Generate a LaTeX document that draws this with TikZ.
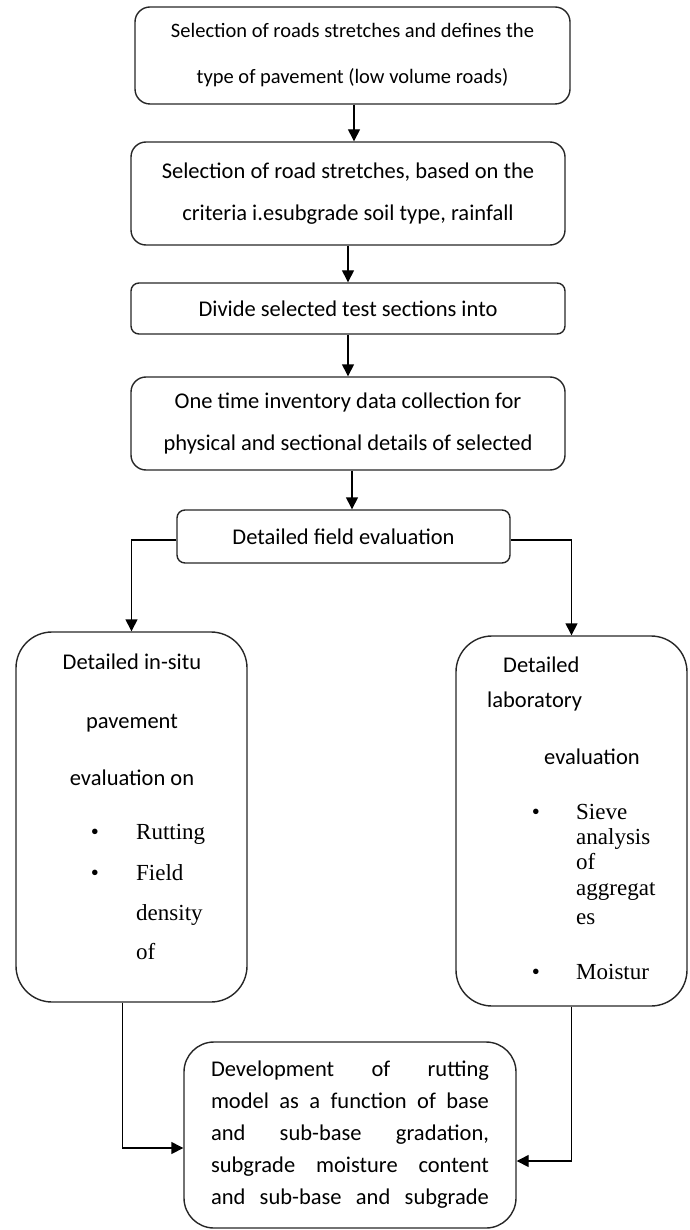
\documentclass[tikz,border=0pt]{standalone}
\usepackage{fontspec}
\setmainfont{Carlito}
\newfontfamily\itemfont{Liberation Serif}
\usetikzlibrary{arrows.meta}

\tikzset{
  stagebox/.style={draw=black!85, line width=1.4pt, rounded corners=15pt, align=center, inner sep=0pt, font=\fontsize{22.5}{42}\selectfont},
  tallbox/.style={draw=black!85, line width=1.4pt, rounded corners=36pt, minimum width=231pt, minimum height=370pt},
  flow/.style={line width=1.4pt, -{Triangle[length=12pt,width=12pt]}},
  boxtext/.style={inner sep=0pt, font=\fontsize{22.5}{27}\selectfont},
  itemtext/.style={inner sep=0pt, font=\itemfont\fontsize{23}{26}\selectfont},
}

\begin{document}
\begin{tikzpicture}[x=1pt,y=-1pt]

\useasboundingbox (0,0) rectangle (689,1230);

\node [stagebox, minimum width=435pt, minimum height=97pt, font=\fontsize{20.5}{46}\selectfont] (sel) at (352.5,55.5)
  {Selection of roads stretches and defines the\\type of pavement (low volume roads)};
\node [stagebox, minimum width=434pt, minimum height=103pt] (crit) at (348,193.5)
  {Selection of road stretches, based on the\\criteria i.esubgrade soil type, rainfall};
\node [stagebox, minimum width=434pt, minimum height=51pt, rounded corners=8pt] (divide) at (348,308.5)
  {Divide selected test sections into};
\node [stagebox, minimum width=434pt, minimum height=93pt] (invent) at (348,423.5)
  {One time inventory data collection for\\physical and sectional details of selected};
\node [stagebox, minimum width=333pt, minimum height=53pt, rounded corners=8pt] (field) at (343.5,536.5)
  {Detailed field evaluation};

\node [tallbox] (insitu) at (131.5,817) {};
\node [tallbox] (lab) at (571.5,821) {};

\node [stagebox, minimum width=332pt, minimum height=186pt, rounded corners=30pt, align=left, font=\fontsize{22.5}{32}\selectfont] (model) at (350,1135)
  {\makebox[278pt][s]{Development of rutting}\\
   \makebox[278pt][s]{model as a function of base}\\
   \makebox[278pt][s]{and sub-base gradation,}\\
   \makebox[278pt][s]{subgrade moisture content}\\
   \makebox[278pt][s]{and sub-base and subgrade}};

% texts of the in-situ box
\node [boxtext, anchor=mid] (insitu1) at (132,667) {Detailed in-situ};
\node [boxtext, anchor=mid] (insitu2) at (132,726) {pavement};
\node [boxtext, anchor=mid] (insitu3) at (132,783) {evaluation on};
\node [itemtext, anchor=mid] (dotA) at (95,837) {•};
\node [itemtext, anchor=mid] (dotB) at (95,878) {•};
\foreach \ty/\tx in {837/Rutting, 878/Field, 918/density, 957/of}
  \node [itemtext, anchor=mid west] (insitu-\ty) at (136,\ty) {\tx};

% texts of the laboratory box
\node [boxtext, anchor=mid west] (lab1) at (503,670) {Detailed};
\node [boxtext, anchor=mid west] (lab2) at (487,705) {laboratory};
\node [boxtext, anchor=mid west] (lab3) at (544,762) {evaluation};
\node [itemtext, anchor=mid] (dotC) at (536,817) {•};
\node [itemtext, anchor=mid] (dotD) at (536,977) {•};
\foreach \ty/\tx in {817/Sieve, 842/analysis, 867/of, 893/aggregat, 922/es, 977/Moistur}
  \node [itemtext, anchor=mid west] (lab-\ty) at (576,\ty) {\tx};

% connectors
\draw [flow] ([xshift=1.5pt]sel.south) -- ([xshift=1.5pt]sel.south |- crit.north);
\draw [flow] (crit.south) -- (crit.south |- divide.north);
\draw [flow] (divide.south) -- (divide.south |- invent.north);
\draw [flow] ([xshift=4pt]invent.south) -- ([xshift=4pt]invent.south |- field.north);
\draw [flow] ([yshift=-3.5pt]field.west) -| (insitu.north);
\draw [flow] ([yshift=-3.5pt]field.east) -| (lab.north);
\draw [flow] ([xshift=-9pt]insitu.south) |- ([yshift=-13pt]model.west);
\draw [flow] (lab.south) |- ([yshift=-26pt]model.east);

\end{tikzpicture}
\end{document}
